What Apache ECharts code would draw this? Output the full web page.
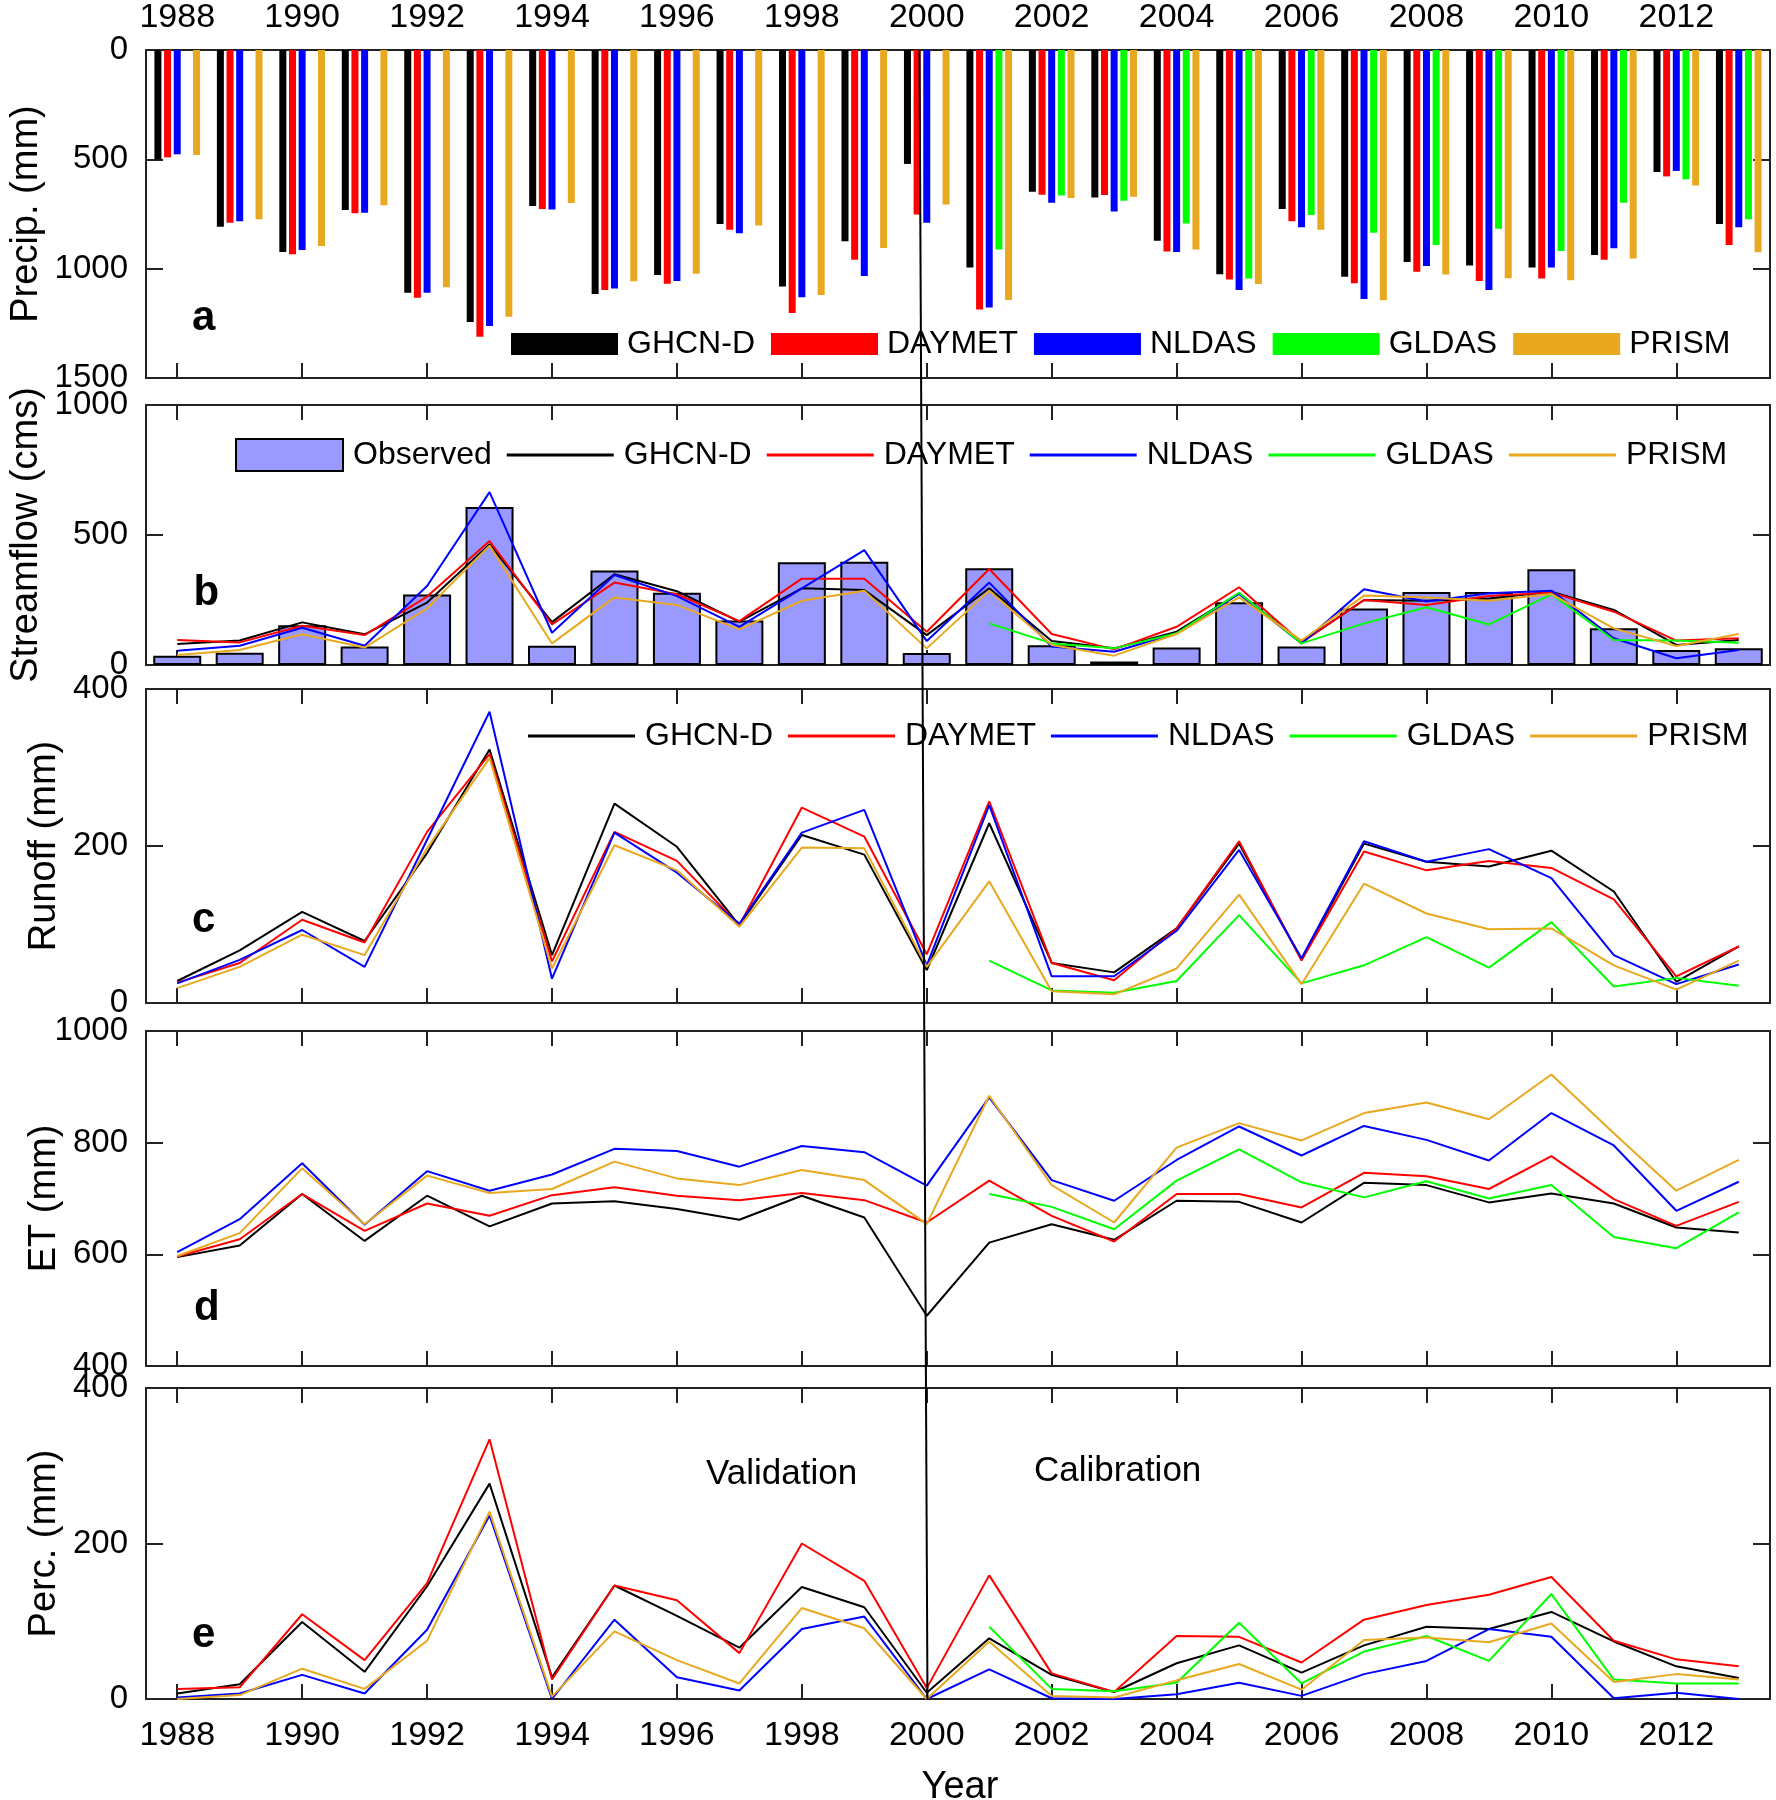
<!DOCTYPE html>
<html>
<head>
<meta charset="utf-8">
<script src="https://cdn.jsdelivr.net/npm/echarts@6/dist/echarts.min.js"></script>
<style>
html,body{margin:0;padding:0;background:#fff;overflow:hidden;}
#chart{width:1776px;height:1800px;}
</style>
</head>
<body>
<div id="chart"></div>
<script>
// ---------------- DATA ----------------
const years = ['1988','1989','1990','1991','1992','1993','1994','1995','1996','1997','1998','1999','2000',
               '2001','2002','2003','2004','2005','2006','2007','2008','2009','2010','2011','2012','2013'];
const sourceNames = ['GHCN-D','DAYMET','NLDAS','GLDAS','PRISM'];
const N = null;

// (a) Precipitation (mm)
const precipGHCN   = [500,808,924,732,1110,1244,713,1116,1029,796,1082,875,521,995,648,674,872,1026,727,1037,969,985,995,938,558,796];
const precipDAYMET = [491,790,934,747,1133,1311,727,1098,1069,822,1203,959,752,1187,662,663,922,1050,783,1067,1014,1056,1045,959,578,892];
const precipNLDAS  = [477,783,915,744,1110,1262,729,1091,1056,838,1131,1034,790,1178,698,739,924,1098,811,1139,988,1098,995,907,553,811];
const precipGLDAS  = [N,N,N,N,N,N,N,N,N,N,N,N,N,912,665,689,794,1045,755,836,892,817,919,698,591,774];
const precipPRISM  = [480,774,896,710,1085,1220,700,1058,1023,803,1120,906,706,1143,677,671,912,1070,822,1145,1027,1044,1053,953,620,925];

// (b) Streamflow (cms)
const flowObserved = [36,47,153,71,271,608,74,363,278,171,395,397,46,372,76,13,67,241,71,217,281,281,368,141,58,64];
const flowGHCN   = [81,94,164,118,240,464,165,349,284,167,295,288,115,295,92,64,128,276,87,250,247,256,282,212,77,96];
const flowDAYMET = [96,87,151,115,263,477,156,317,272,169,332,332,128,369,119,60,147,299,87,250,231,265,279,205,94,103];
const flowNLDAS  = [55,74,143,74,304,665,124,346,265,147,295,442,92,317,71,51,122,273,83,291,244,276,286,103,26,58];
const flowGLDAS  = [N,N,N,N,N,N,N,N,N,N,N,N,N,160,83,64,122,278,83,160,222,156,272,96,94,86];
const flowPRISM  = [38,58,118,67,218,459,83,260,231,137,247,286,64,286,77,36,119,260,94,267,260,247,273,141,73,119];

// (c) Runoff (mm)
const runoffGHCN   = [28,67,116,79,191,323,61,254,199,99,214,189,42,229,51,39,95,203,55,203,180,174,194,142,27,72];
const runoffDAYMET = [26,51,106,77,218,317,53,218,181,99,249,212,62,257,51,29,95,206,54,193,169,181,172,132,34,72];
const runoffNLDAS  = [25,55,93,46,208,371,31,217,166,101,217,246,48,252,34,34,92,195,57,206,180,196,159,61,24,49];
const runoffGLDAS  = [N,N,N,N,N,N,N,N,N,N,N,N,N,54,16,13,28,112,25,48,84,45,103,21,32,22];
const runoffPRISM  = [19,46,87,61,197,312,44,201,169,97,198,197,46,155,15,11,44,138,24,152,114,94,95,48,17,54];

// (d) ET (mm)
const etGHCN   = [595,616,708,624,705,650,691,695,681,662,705,666,490,621,654,626,696,694,657,728,724,693,709,691,648,639];
const etDAYMET = [596,627,708,642,691,669,706,720,705,697,710,697,657,732,669,623,708,708,684,746,740,717,776,699,651,694];
const etNLDAS  = [604,663,763,653,749,714,743,789,785,757,794,783,723,881,733,696,769,829,777,830,805,768,853,795,678,730];
const etGLDAS  = [N,N,N,N,N,N,N,N,N,N,N,N,N,708,685,645,732,788,729,702,731,700,724,631,611,675];
const etPRISM  = [597,638,754,654,741,710,717,766,736,724,751,733,654,884,724,657,791,835,804,853,872,842,922,817,714,769];

// (e) Percolation (mm)
const percGHCN   = [7,19,99,35,145,277,28,146,107,66,144,118,8,78,31,9,46,69,34,69,93,90,112,74,42,27];
const percDAYMET = [13,15,109,50,149,334,25,146,127,59,200,152,14,159,33,9,81,80,47,102,121,134,157,75,51,42];
const percNLDAS  = [2,7,31,7,89,236,0,102,28,11,90,106,0,38,1,0,6,21,4,32,49,90,80,1,8,0];
const percGLDAS  = [N,N,N,N,N,N,N,N,N,N,N,N,N,93,13,10,21,98,20,61,81,49,135,25,20,20];
const percPRISM  = [0,5,39,13,75,241,3,87,50,20,117,91,0,74,4,2,24,45,12,76,79,73,97,22,32,25];

const yTitles = ['Precip. (mm)','Streamflow (cms)','Runoff (mm)','ET (mm)','Perc. (mm)'];

// ---------------- STYLE / LAYOUT ----------------
const FF = '"Liberation Sans", Arial, Helvetica, sans-serif';
const srcColors = ['#000000','#ff0000','#0000ff','#00ff00','#e8a820'];
const AX = '#222';
const panels = [
  {top:50,   height:328, min:0,   max:1500, interval:500, inverse:true,  nameGap:100},
  {top:405,  height:260, min:0,   max:1000, interval:500, inverse:false, nameGap:100},
  {top:689,  height:314, min:0,   max:400,  interval:200, inverse:false, nameGap:82},
  {top:1031, height:335, min:400, max:1000, interval:200, inverse:false, nameGap:82},
  {top:1388, height:311, min:0,   max:400,  interval:200, inverse:false, nameGap:82}
];
const LINE_ICON = 'path://M0,0L100,0L100,2.6L0,2.6Z';

const grid = [], xAxis = [], yAxis = [], series = [];
panels.forEach((p, i) => {
  grid.push({left:146, width:1624, top:p.top, height:p.height, containLabel:false, outerBoundsMode:'none'});
  ['bottom','top'].forEach(pos => {
    const showLabel = (i === 0 && pos === 'top') || (i === 4 && pos === 'bottom');
    xAxis.push({
      type:'category', gridIndex:i, position:pos, data:years, boundaryGap:true,
      axisLine:{show:true, onZero:false, lineStyle:{color:AX, width:2}},
      axisTick:{show:true, inside:true, length:15, interval:1, alignWithLabel:true, lineStyle:{color:AX, width:2}},
      axisLabel:{show:showLabel, interval:1, fontSize:34, color:'#000', fontFamily:FF, margin: pos === 'top' ? 15 : 20},
      splitLine:{show:false}
    });
  });
  ['left','right'].forEach(pos => {
    yAxis.push({
      type:'value', gridIndex:i, position:pos, min:p.min, max:p.max, interval:p.interval, inverse:p.inverse,
      axisLine:{show:true, onZero:false, lineStyle:{color:AX, width:2}},
      axisTick:{show:true, inside:true, length:17, lineStyle:{color:AX, width:2}},
      axisLabel:{show: pos === 'left', fontSize:33, color:'#000', fontFamily:FF, margin:18,
                 formatter: v => String(v)},
      splitLine:{show:false},
      name: pos === 'left' ? yTitles[i] : '',
      nameLocation:'middle', nameRotate:90, nameGap:p.nameGap, nameMoveOverlap:false,
      nameTextStyle:{fontSize:38, color:'#000', fontFamily:FF}
    });
  });
});

// panel a bars
const precipSets = [precipGHCN, precipDAYMET, precipNLDAS, precipGLDAS, precipPRISM];
precipSets.forEach((d, k) => {
  series.push({
    type:'bar', name:'a|' + sourceNames[k], xAxisIndex:0, yAxisIndex:0, data:d,
    barWidth:7, barGap:'38%', itemStyle:{color:srcColors[k]}
  });
});
// panel b observed bars
series.push({
  type:'bar', name:'b|Observed', xAxisIndex:2, yAxisIndex:2, data:flowObserved, barWidth:48,
  itemStyle:{color:'#9999ff', borderColor:'#000', borderWidth:2}
});
function addLines(prefix, panelIdx, sets) {
  sets.forEach((d, k) => {
    series.push({
      type:'line', name:prefix + '|' + sourceNames[k], xAxisIndex:panelIdx*2, yAxisIndex:panelIdx*2, data:d,
      symbol:'none', showSymbol:false, connectNulls:false, z:3,
      lineStyle:{color:srcColors[k], width:2}, itemStyle:{color:srcColors[k]}
    });
  });
}
addLines('b', 1, [flowGHCN, flowDAYMET, flowNLDAS, flowGLDAS, flowPRISM]);
addLines('c', 2, [runoffGHCN, runoffDAYMET, runoffNLDAS, runoffGLDAS, runoffPRISM]);
addLines('d', 3, [etGHCN, etDAYMET, etNLDAS, etGLDAS, etPRISM]);
addLines('e', 4, [percGHCN, percDAYMET, percNLDAS, percGLDAS, percPRISM]);

const legendText = {fontSize:32, color:'#000', fontFamily:FF};
const fmt = n => n.split('|')[1];
const legend = [
  {
    left:511, top:328, padding:0, orient:'horizontal', itemWidth:107, itemHeight:22, itemGap:16, selectedMode:false,
    icon:'rect', formatter:fmt, textStyle:Object.assign({padding:[0,0,0,4]}, legendText),
    itemStyle:{borderWidth:0},
    data: sourceNames.map(s => ({name:'a|' + s, icon:'rect'}))
  },
  {
    left:235, top:438, padding:0, orient:'horizontal', itemWidth:107, itemHeight:32, itemGap:15, selectedMode:false,
    formatter:fmt, textStyle:Object.assign({padding:[0,0,0,5]}, legendText),
    itemStyle:{borderWidth:0},
    data: [{name:'b|Observed', icon:'rect', itemStyle:{borderColor:'#000', borderWidth:2}}]
          .concat(sourceNames.map(s => ({name:'b|' + s, icon:LINE_ICON})))
  },
  {
    left:528, top:720, padding:0, orient:'horizontal', itemWidth:107, itemHeight:32, itemGap:15, selectedMode:false,
    formatter:fmt, textStyle:Object.assign({padding:[0,0,0,5]}, legendText),
    itemStyle:{borderWidth:0},
    data: sourceNames.map(s => ({name:'c|' + s, icon:LINE_ICON}))
  }
];

const txt = (t, x, y, font, align) => ({
  type:'text', z:100,
  style:{text:t, x:x, y:y, font:font, fill:'#000', textAlign:align || 'left', textVerticalAlign:'middle', verticalAlign:'middle'}
});
const graphic = [
  {type:'line', z:100, shape:{x1:919.5, y1:50, x2:927.5, y2:1700}, style:{stroke:'#000', lineWidth:2}},
  txt('a', 192, 318.5, 'bold 42px ' + FF),
  txt('b', 193.6, 593.8, 'bold 42px ' + FF),
  txt('c', 192, 920.4, 'bold 42px ' + FF),
  txt('d', 194, 1308.8, 'bold 42px ' + FF),
  txt('e', 192, 1635.4, 'bold 42px ' + FF),
  txt('Validation', 706, 1474.6, '35px ' + FF),
  txt('Calibration', 1034, 1471.2, '35px ' + FF),
  txt('Year', 960, 1788, '38px ' + FF, 'center')
];

const chart = echarts.init(document.getElementById('chart'), null, {renderer:'canvas'});
chart.setOption({
  animation:false,
  backgroundColor:'#fff',
  textStyle:{fontFamily:FF},
  grid, xAxis, yAxis, series, legend, graphic
});
</script>
</body>
</html>
